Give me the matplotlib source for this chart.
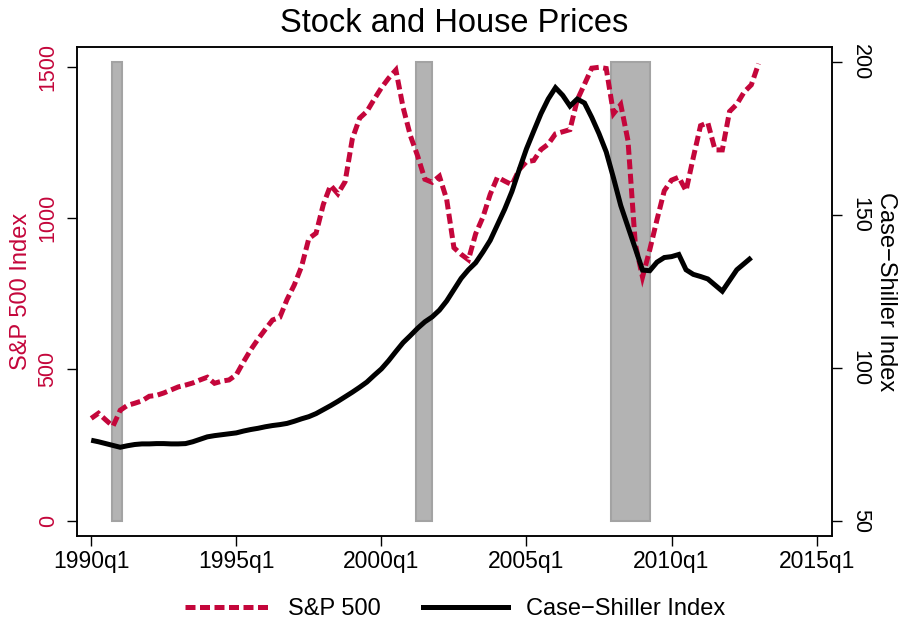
import matplotlib
matplotlib.use("Agg")
import matplotlib.pyplot as plt
from matplotlib.patches import Rectangle
from matplotlib.lines import Line2D
import numpy as np

plt.rcParams['font.family'] = ['Liberation Sans', 'DejaVu Sans']

# ---------------- data ----------------
start_year = 1990  # first quarter = 1990q1

sp500 = [
    338, 355, 333, 312,      # 1990
    365, 381, 388, 396,      # 1991
    411, 414, 422, 432,      # 1992
    442, 448, 455, 465,      # 1993
    474, 454, 461, 465,      # 1994
    482, 525, 565, 600,      # 1995
    632, 663, 672, 731,      # 1996
    779, 840, 932, 950,      # 1997
    1045, 1108, 1080, 1120,  # 1998
    1262, 1330, 1352, 1392,  # 1999
    1430, 1462, 1489, 1365,  # 2000
    1272, 1205, 1128, 1118,  # 2001
    1138, 1062, 902, 880,    # 2002
    862, 948, 1003, 1078,    # 2003
    1135, 1122, 1110, 1160,  # 2004
    1186, 1190, 1226, 1244,  # 2005
    1278, 1285, 1292, 1390,  # 2006
    1442, 1495, 1498, 1494,  # 2007
    1345, 1375, 1255, 915,   # 2008
    805, 895, 995, 1090,     # 2009
    1125, 1135, 1090, 1200,  # 2010
    1305, 1315, 1225, 1225,  # 2011
    1352, 1376, 1416, 1440,  # 2012
    1510,                    # 2013q1
]

case_shiller = [
    76.3, 75.8, 75.2, 74.6,      # 1990
    74.0, 74.5, 74.9, 75.1,      # 1991
    75.1, 75.2, 75.2, 75.1,      # 1992
    75.1, 75.2, 75.8, 76.6,      # 1993
    77.4, 77.8, 78.1, 78.4,      # 1994
    78.7, 79.3, 79.8, 80.2,      # 1995
    80.7, 81.1, 81.4, 81.8,      # 1996
    82.5, 83.3, 84.0, 85.0,      # 1997
    86.3, 87.6, 89.0, 90.5,      # 1998
    92.0, 93.6, 95.3, 97.5,      # 1999
    99.6, 102.3, 105.3, 108.2,   # 2000
    110.5, 112.9, 115.0, 116.6,  # 2001
    118.8, 121.8, 125.5, 129.2,  # 2002
    132.0, 134.3, 137.8, 141.6,  # 2003
    146.7, 151.8, 157.6, 164.7,  # 2004
    171.5, 177.3, 183.0, 187.8,  # 2005
    191.5, 189.0, 185.5, 187.8,  # 2006
    186.5, 181.8, 176.5, 170.5,  # 2007
    162.0, 153.0, 146.0, 139.0,  # 2008
    131.9, 131.7, 134.5, 136.0,  # 2009
    136.3, 137.0, 132.0, 130.5,  # 2010
    129.8, 129.0, 127.0, 125.0,  # 2011
    128.5, 132.0, 134.0, 136.0,  # 2012
]

# recession periods (in fractional years)
recession_start = [1990.70, 2001.19, 2007.93]
recession_end = [1991.05, 2001.76, 2009.26]

x_tick_years = [1990, 1995, 2000, 2005, 2010, 2015]
x_tick_labels = ['1990q1', '1995q1', '2000q1', '2005q1', '2010q1', '2015q1']
left_ticks = [0, 500, 1000, 1500]
right_ticks = [50, 100, 150, 200]

series_labels = ['S&P 500', 'Case\u2212Shiller Index']

# ---------------- style ----------------
RED = '#C4063B'
BAR_FILL = '#b3b3b3'
BAR_EDGE = '#a3a3a3'
LW = 3.6

t_sp = start_year + np.arange(len(sp500)) / 4.0
t_cs = start_year + np.arange(len(case_shiller)) / 4.0

fig = plt.figure(figsize=(9.01, 6.29), dpi=100)
ax1 = fig.add_axes([76.7 / 901, 1 - 535.7 / 629, (831.7 - 76.7) / 901, (535.7 - 46.7) / 629])
ax2 = ax1.twinx()

# recession shading (on the right-axis scale)
for a, b in zip(recession_start, recession_end):
    ax1.add_patch(Rectangle((a, min(right_ticks)), b - a, max(right_ticks) - min(right_ticks),
                            facecolor=BAR_FILL, edgecolor=BAR_EDGE, linewidth=1.5,
                            transform=ax2.transData, zorder=1))

ax1.plot(t_sp, sp500, color=RED, lw=LW, dashes=(2.0, 0.9),
         dash_capstyle='butt', dash_joinstyle='miter', zorder=3)
ax1.plot(t_cs, case_shiller, color='black', lw=LW, solid_joinstyle='miter',
         solid_capstyle='butt', transform=ax2.transData, zorder=4)

ax1.set_xlim(1989.5, 2015.52)
ax1.set_ylim(-49.6, 1566)
ax2.set_ylim(45.1, 204.9)

# axes / ticks
for ax in (ax1, ax2):
    for s in ax.spines.values():
        s.set_linewidth(1.1)
        s.set_color('black')

ax1.set_xticks(x_tick_years)
ax1.set_xticklabels(x_tick_labels)
ax1.tick_params(axis='x', labelsize=16.5, length=7, width=1, pad=3, direction='out')

ax1.set_yticks(left_ticks)
ax1.set_yticklabels([str(v) for v in left_ticks])
ax1.tick_params(axis='y', labelsize=15.5, length=7, width=1, pad=6, labelcolor=RED,
                color='black', direction='out')
for lab in ax1.get_yticklabels():
    lab.set_rotation(90)
    lab.set_va('center')

ax2.set_yticks(right_ticks)
ax2.set_yticklabels([str(v) for v in right_ticks])
ax2.tick_params(axis='y', labelsize=15.5, length=7, width=1, pad=6, direction='out')
for lab in ax2.get_yticklabels():
    lab.set_rotation(-90)
    lab.set_va('center')

ax1.set_ylabel('S&P 500 Index', color=RED, fontsize=17, labelpad=4)
ax2.set_ylabel(series_labels[1], fontsize=17, rotation=-90, va='bottom', labelpad=3)

ax1.set_title('Stock and House Prices', fontsize=23.5, pad=10.5)

handles = [Line2D([], [], color=RED, lw=LW, dashes=(2.0, 0.9), dash_capstyle='butt'),
           Line2D([], [], color='black', lw=LW)]
fig.legend(handles, series_labels, loc='center', bbox_to_anchor=(455 / 901, 1 - 609 / 629),
           ncol=2, frameon=False, fontsize=17, handlelength=3.6, handletextpad=0.75,
           columnspacing=1.8)

fig.savefig('out.png', dpi=100)
